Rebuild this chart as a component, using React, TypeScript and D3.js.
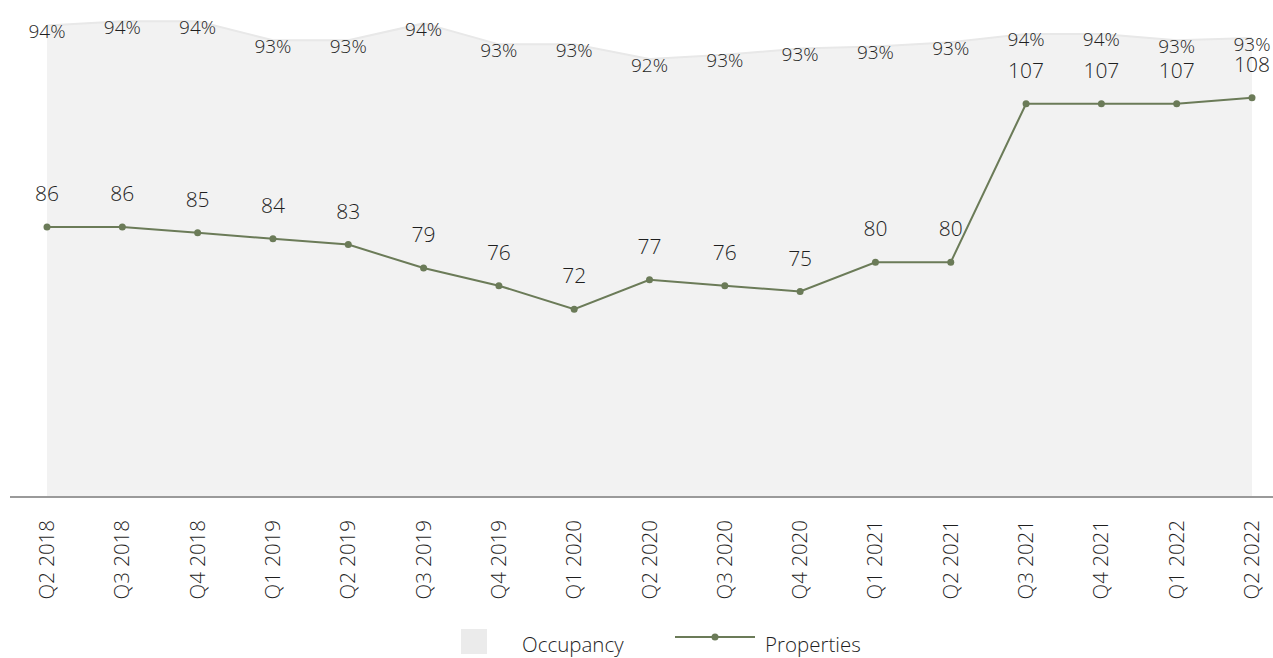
import React, { useEffect } from 'react';
import * as d3 from 'd3';

// Quarterly portfolio figures
const quarters = [
  'Q2 2018', 'Q3 2018', 'Q4 2018', 'Q1 2019', 'Q2 2019', 'Q3 2019', 'Q4 2019',
  'Q1 2020', 'Q2 2020', 'Q3 2020', 'Q4 2020', 'Q1 2021', 'Q2 2021', 'Q3 2021',
  'Q4 2021', 'Q1 2022', 'Q2 2022',
];
// Occupancy rate, percent
const occupancy = [
  94.0, 94.2, 94.2, 93.3, 93.3, 94.1, 93.1, 93.1, 92.4, 92.6, 92.9, 93.0, 93.2,
  93.6, 93.6, 93.3, 93.4,
];
// Number of properties
const properties = [86, 86, 85, 84, 83, 79, 76, 72, 77, 76, 75, 80, 80, 107, 107, 107, 108];

const legendItems = ['Occupancy', 'Properties'];

const W = 1273;
const H = 658;
const BASE_Y = 497;
const FONT = '"Open Sans", Roboto, Lato, sans-serif';
const TEXT = '#1f1f1f';
const GREEN = '#6b7b58';

export default function App() {
  useEffect(() => {
    document.body.style.margin = '0';
  }, []);

  const x = d3.scalePoint<string>().domain(quarters).range([47, 1252]);
  const yOcc = d3.scaleLinear().domain([71.5, 94]).range([BASE_Y, 25.5]);
  const yProp = d3.scaleLinear().domain([40, 120]).range([BASE_Y, 27.4]);

  const occArea = d3
    .area<number>()
    .x((_, i) => x(quarters[i])!)
    .y0(BASE_Y)
    .y1((d) => yOcc(d));
  const occEdge = d3
    .line<number>()
    .x((_, i) => x(quarters[i])!)
    .y((d) => yOcc(d));
  const propLine = d3
    .line<number>()
    .x((_, i) => x(quarters[i])!)
    .y((d) => yProp(d));

  return (
    <svg width={W} height={H} style={{ display: 'block' }} fontFamily={FONT}>
      <rect width={W} height={H} fill="#ffffff" />
      {/* occupancy area */}
      <path d={occArea(occupancy)!} fill="#f2f2f2" />
      <path d={occEdge(occupancy)!} fill="none" stroke="#e8e8e8" strokeWidth={2} />

      {/* baseline */}
      <line x1={10} x2={W} y1={BASE_Y} y2={BASE_Y} stroke="#9a9a9a" strokeWidth={2} />

      {/* properties line */}
      <path d={propLine(properties)!} fill="none" stroke={GREEN} strokeWidth={2} />
      {properties.map((v, i) => (
        <circle key={'p' + i} cx={x(quarters[i])} cy={yProp(v)} r={3.5} fill={GREEN} />
      ))}

      {/* occupancy labels */}
      {occupancy.map((v, i) => (
        <text
          key={'ol' + i}
          x={x(quarters[i])}
          y={yOcc(v) + 12.5}
          textAnchor="middle"
          fontSize={19}
          fontWeight={300}
          fill={TEXT}
        >
          {Math.round(v) + '%'}
        </text>
      ))}

      {/* properties labels */}
      {properties.map((v, i) => (
        <text
          key={'pl' + i}
          x={x(quarters[i])}
          y={yProp(v) - 26}
          textAnchor="middle"
          fontSize={21}
          fontWeight={300}
          fill={TEXT}
        >
          {v}
        </text>
      ))}

      {/* category labels */}
      {quarters.map((q) => (
        <text
          key={q}
          transform={`translate(${x(q)! + 7},520) rotate(-90)`}
          textAnchor="end"
          fontSize={20.5}
          fontWeight={300}
          fill={TEXT}
        >
          {q}
        </text>
      ))}

      {/* legend */}
      <g>
        <rect x={461} y={629} width={26} height={25} fill="#ebebeb" />
        <text x={522} y={652} fontSize={20.5} fontWeight={300} fill={TEXT}>
          {legendItems[0]}
        </text>
        <line x1={675} x2={755} y1={637} y2={637} stroke={GREEN} strokeWidth={2} />
        <circle cx={715} cy={637} r={3.5} fill={GREEN} />
        <text x={765} y={652} fontSize={20.5} fontWeight={300} fill={TEXT}>
          {legendItems[1]}
        </text>
      </g>
    </svg>
  );
}
